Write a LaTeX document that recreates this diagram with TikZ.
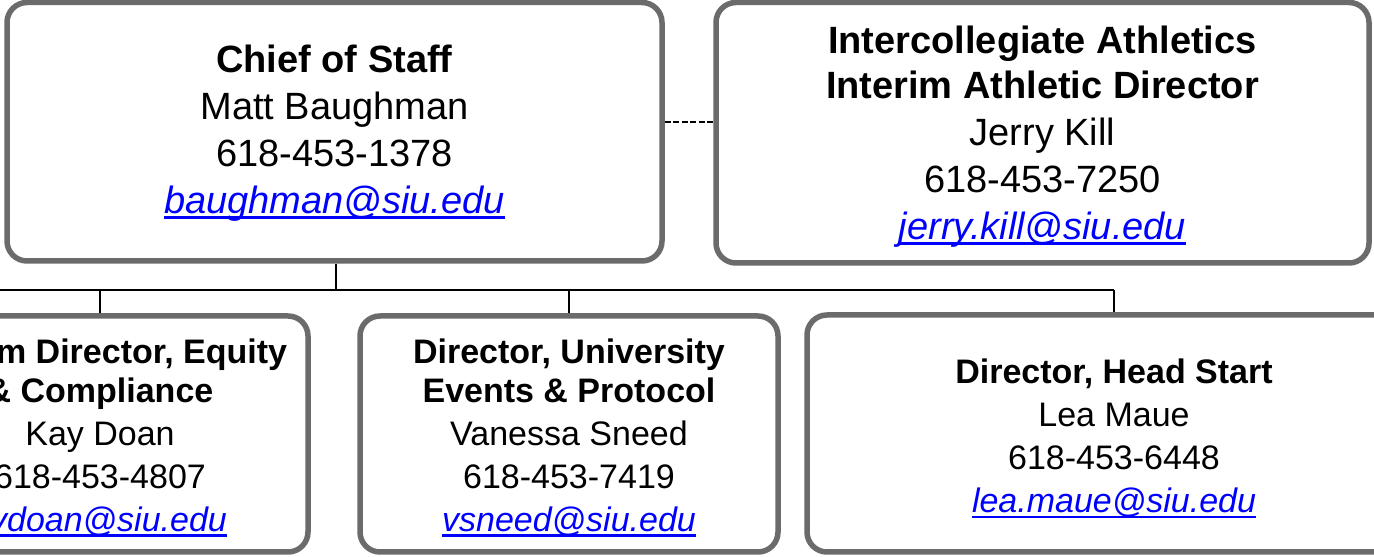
\documentclass[tikz,border=0pt]{standalone}
\usepackage{fontspec}
\setmainfont{Liberation Sans}
\definecolor{boxgray}{HTML}{6B6B6B}
\definecolor{maillink}{HTML}{0000FF}
\newcommand\mailto[1]{{\color{maillink}\itshape\setbox0\hbox{#1}\rlap{\rule[-0.16em]{\wd0}{0.07em}}\box0}}
\tikzset{
  orgbox/.style={draw=boxgray, line width=5.5pt, rounded corners=20pt, fill=white, inner sep=0pt},
  toptext/.style={align=center, inner sep=0pt, text=black, font=\fontsize{38}{47}\selectfont},
  lowtext/.style={align=center, inner sep=0pt, text=black, font=\fontsize{34}{43}\selectfont},
  conn/.style={line width=1.8pt, black},
  linkdash/.style={line width=1.8pt, black, dash pattern=on 6pt off 2.5pt}
}
\begin{document}
\begin{tikzpicture}[x=1pt,y=1pt]
\useasboundingbox (0,0) rectangle (1374,557);
\clip (0,0) rectangle (1374,557);
\fill[white] (0,0) rectangle (1374,557);

% boxes
\node[orgbox, minimum width=655pt, minimum height=258.5pt] (chief) at (334.5,425.25) {};
\node[orgbox, minimum width=653pt, minimum height=260.5pt] (ath) at (1042.5,424.25) {};
\node[orgbox, minimum width=416pt, minimum height=236pt] (equity) at (100,123) {};
\node[orgbox, minimum width=418pt, minimum height=236pt] (events) at (569,123) {};
\node[orgbox, minimum width=614pt, minimum height=237pt] (head) at (1114,123.5) {};

% texts
\node[toptext] (chiefT) at ([yshift=-1pt]chief.center)
  {\textbf{Chief of Staff}\\Matt Baughman\\618-453-1378\\\mailto{baughman@siu.edu}};
\node[toptext] (athT) at ([yshift=-3.5pt]ath.center)
  {\textbf{Intercollegiate Athletics}\\[-2pt]\textbf{Interim Athletic Director}\\Jerry Kill\\618-453-7250\\\mailto{jerry.kill@siu.edu}};
\node[lowtext] (equityT) at ([yshift=-3.5pt]equity.center)
  {\textbf{Interim Director, Equity}\\[-4pt]\textbf{\& Compliance}\\Kay Doan\\618-453-4807\\\mailto{kvdoan@siu.edu}};
\node[lowtext] (eventsT) at ([yshift=-3.5pt]events.center)
  {\textbf{Director, University}\\[-4pt]\textbf{Events \& Protocol}\\Vanessa Sneed\\618-453-7419\\\mailto{vsneed@siu.edu}};
\node[lowtext] (headT) at ([yshift=-5pt]head.center)
  {\textbf{Director, Head Start}\\Lea Maue\\618-453-6448\\\mailto{lea.maue@siu.edu}};

% connectors
\coordinate (busL) at (-10,267);
\draw[conn] (chief.south -| 336,0) -- (busL -| 336,0);
\draw[conn] (busL) -- (busL -| head.north);
\draw[conn] (busL -| equity.north) -- (equity.north);
\draw[conn] (busL -| events.north) -- (events.north);
\draw[conn] (busL -| head.north) -- (head.north);
\draw[linkdash] ([yshift=10pt]chief.east) -- ([yshift=10pt]chief.east -| ath.west);
\end{tikzpicture}
\end{document}
